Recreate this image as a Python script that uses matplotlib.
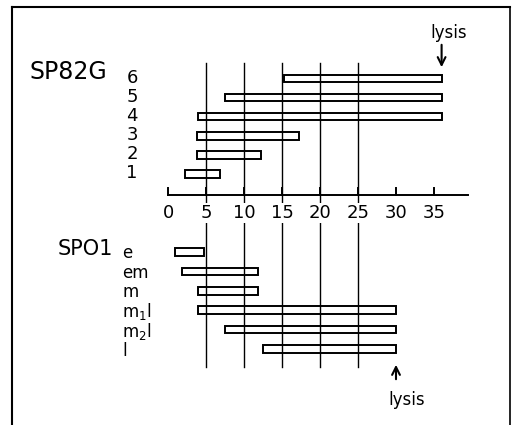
import matplotlib.pyplot as plt

# time scale (min) and pixel layout of the scanned figure
ticks = [0, 5, 10, 15, 20, 25, 30, 35]
tick_labels = ['0', '5', '10', '15', '20', '25', '30', '35']
grid_x = [5, 10, 15, 20, 25]

# SP82G transcription classes 6..1 (start / end, min)
sp82g_rows = ['6', '5', '4', '3', '2', '1']
sp82g_start = [15.2, 7.5, 3.9, 3.8, 3.8, 2.3]
sp82g_end = [36, 36, 36, 17.2, 12.3, 6.8]
lysis_82g = 36

# SPO1 classes
sp01_rows = ['e', 'em', 'm', r'm$_\mathregular{1}$l', r'm$_\mathregular{2}$l', 'l']
sp01_start = [0.9, 1.9, 3.9, 3.9, 7.5, 12.5]
sp01_end = [4.8, 11.9, 11.9, 30, 30, 30]
lysis_01 = 30

px0, pxu = 168, 7.6   # pixel of x=0, pixels per minute
W, H = 513, 425

fig = plt.figure(figsize=(W/100, H/100), dpi=100)
ax = fig.add_axes([0, 0, 1, 1])
ax.set_xlim(-px0/pxu, (W-px0)/pxu)
ax.set_ylim(H, 0)
ax.axis('off')

def v(px):
    return (px-px0)/pxu

# frame of the scan
ax.plot([v(12), v(12)], [7, H], color='black', lw=1.5)
ax.plot([v(12), v(510)], [7, 7], color='black', lw=1.5)
ax.plot([v(510), v(510)], [7, H], color='black', lw=1.2)

# vertical reference lines
for g in grid_x:
    ax.plot([g, g], [63, 367], color='black', lw=1, zorder=1)

# axis with upward ticks
ax.plot([0, 39.5], [195, 195], color='black', lw=1.4)
for t, lab in zip(ticks, tick_labels):
    ax.plot([t, t], [188, 195], color='black', lw=1.4)
    ax.text(t, 213, lab, ha='center', va='center', fontsize=13,
            bbox=dict(facecolor='white', edgecolor='none', pad=0.5), zorder=3)

# SP82G bars
ys1 = [78.5 + 19.1*i for i in range(len(sp82g_rows))]
ax.barh(ys1, [e-s for s, e in zip(sp82g_start, sp82g_end)], left=sp82g_start,
        height=7.5, facecolor='none', edgecolor='black', lw=1.4, zorder=2)
for y, lab in zip(ys1, sp82g_rows):
    ax.text(v(132), y-1, lab, ha='center', va='center', fontsize=13)
ax.text(v(30), 72, 'SP82G', ha='left', va='center', fontsize=17)

# SPO1 bars
ys2 = [252 + 19.4*i for i in range(len(sp01_rows))]
ax.barh(ys2, [e-s for s, e in zip(sp01_start, sp01_end)], left=sp01_start,
        height=7.5, facecolor='none', edgecolor='black', lw=1.4, zorder=2)
for y, lab in zip(ys2, sp01_rows):
    ax.text(v(122), y+1.5, lab, ha='left', va='center', fontsize=12)
ax.text(v(58), 249, 'SPO1', ha='left', va='center', fontsize=15)

# lysis arrows
ax.annotate('', xy=(lysis_82g, 70), xytext=(lysis_82g, 42),
            arrowprops=dict(arrowstyle='->', color='black', lw=1.5, mutation_scale=14))
ax.text(v(430), 33, 'lysis', ha='left', va='center', fontsize=12)
ax.annotate('', xy=(lysis_01, 362), xytext=(lysis_01, 382),
            arrowprops=dict(arrowstyle='->', color='black', lw=1.5, mutation_scale=14))
ax.text(v(388), 400, 'lysis', ha='left', va='center', fontsize=12)

fig.savefig('out.png', dpi=100)
